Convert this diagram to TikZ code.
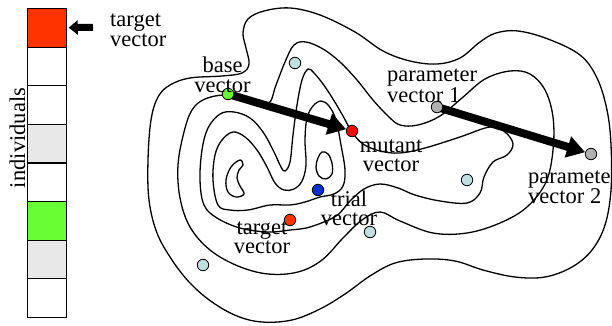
\documentclass[tikz,border=0pt]{standalone}
\usepackage{fontspec}
\setmainfont{Liberation Serif}
\usetikzlibrary{arrows.meta}
\definecolor{boxred}{HTML}{FF3300}
\definecolor{boxgreen}{HTML}{66FF33}
\definecolor{boxgray}{HTML}{E8E8E8}
\definecolor{dotred}{HTML}{FF0000}
\definecolor{dotblue}{HTML}{0033CC}
\definecolor{dotcyan}{HTML}{BFE0E0}
\definecolor{dotgray}{HTML}{B0B0B0}
\pgfdeclarelayer{bg}
\pgfdeclarelayer{mid}
\pgfsetlayers{bg,mid,main}
\begin{document}
\begin{tikzpicture}[x=1pt,y=-1pt,
  contour/.style={line width=1.3pt, line join=round},
  cell/.style={draw, line width=1.2pt, minimum width=38.5pt, minimum height=38.6pt, inner sep=0pt, anchor=north west},
  dot/.style={circle, draw, line width=0.8pt, minimum size=11.5pt, inner sep=0pt},
  lbl/.style={font=\fontsize{22.5}{19.5}\selectfont, inner sep=0pt},
  bigarrow/.style={line width=8pt, -{Triangle[length=18pt,width=21pt]}},
  smallarrow/.style={line width=7pt, -{Triangle[length=9pt,width=14pt]}, shorten >=2pt},
]
\useasboundingbox (0,0) rectangle (612,326);

% population column
\node[cell, fill=boxred]   (c1) at (27,8) {};
\node[cell]                (c2) at (27,46.6) {};
\node[cell]                (c3) at (27,85.2) {};
\node[cell, fill=boxgray]  (c4) at (27,123.8) {};
\node[cell]                (c5) at (27,162.4) {};
\node[cell, fill=boxgreen] (c6) at (27,201) {};
\node[cell, fill=boxgray]  (c7) at (27,239.6) {};
\node[cell]                (c8) at (27,278.2) {};
\node[lbl, rotate=90, anchor=base] (ind) at (25,138) {individuals};
\coordinate (tv0) at (93,27.3);
\draw[smallarrow] (tv0) -- (c1);
\node[lbl, anchor=base west] (ttop) at (110,27) {\begin{tabular}[t]{@{}l@{}}target\\vector\end{tabular}};

% contour lines
\begin{pgfonlayer}{bg}
\draw[contour] plot[smooth cycle, tension=0.6] coordinates {
(148,160) (151,120) (158,97) (170,85) (190,78) (222,76) (242,73) (249,64) (246,48) (243,33) (248,19) (264,11) (290,8) (320,15) (355,32) (383,51) (410,61) (437,64) (460,58) (480,42) (496,33) (518,31) (548,39) (580,55) (597,78) (607,110) (611,145) (611,190) (605,225) (592,250) (572,267) (545,277) (515,277) (483,270) (455,261) (425,259) (395,263) (370,276) (345,294) (320,309) (292,320) (262,322) (237,316) (212,302) (190,283) (172,260) (157,233) (149,200)};
\draw[contour] plot[smooth cycle, tension=0.6] coordinates {
(226,95) (205,99) (192,110) (184,132) (178,165) (180,198) (190,227) (210,250) (238,266) (268,274) (298,272) (322,260) (343,238) (362,220) (380,212) (400,221) (433,233) (467,233) (500,223) (527,207) (546,182) (553,150) (553,117) (545,90) (530,74) (510,71) (485,79) (462,98) (440,116) (418,125) (400,125) (388,116) (373,100) (357,80) (340,62) (323,49) (306,42) (294,45) (285,62) (276,85) (268,104) (248,100)};
\draw[contour] plot[smooth cycle, tension=0.6] coordinates {
(204,205) (200,180) (202,150) (208,128) (220,114) (234,112) (250,118) (263,132) (274,152) (281,167) (285,171) (290,162) (293,135) (297,105) (302,80) (308,69) (314,73) (323,84) (333,99) (343,116) (352,132) (363,144) (380,151) (400,153) (425,148) (460,137) (490,127) (505,132) (513,144) (507,155) (493,162) (484,177) (480,193) (467,203) (440,201) (415,195) (398,188) (380,184) (364,189) (350,201) (336,216) (310,227) (290,230) (268,232) (240,228) (217,218)};
\draw[contour] plot[smooth cycle, tension=0.6] coordinates {
(218,205) (213,180) (215,155) (222,140) (233,132) (245,137) (257,150) (267,167) (275,183) (284,190) (294,189) (302,181) (306,165) (305,140) (307,118) (313,106) (321,101) (329,106) (336,120) (341,145) (345,170) (343,186) (334,194) (320,197) (305,202) (290,205) (270,205) (248,210) (230,210)};
\draw[contour] plot[smooth cycle, tension=0.6] coordinates {
(318,158) (322,152) (328,154) (332,163) (332,174) (326,179) (319,176) (316,167)};
\draw[contour] plot[smooth cycle, tension=0.6] coordinates {
(240,160) (231,167) (226,180) (228,192) (236,197) (244,194) (240,186) (237,178) (239,170) (243,165)};
\end{pgfonlayer}

% points
\node[dot, fill=boxgreen] (base) at (228,94) {};
\node[dot, fill=dotcyan]  (q1) at (295,63) {};
\node[dot, fill=dotred]   (mut) at (352,131) {};
\node[dot, fill=dotblue]  (trial) at (318,190) {};
\node[dot, fill=boxred]   (targ) at (290,220) {};
\node[dot, fill=dotcyan]  (q2) at (370,232) {};
\node[dot, fill=dotcyan]  (q3) at (203,265) {};
\node[dot, fill=dotcyan]  (q4) at (467,180) {};
\node[dot, fill=dotgray]  (p1) at (437,107) {};
\node[dot, fill=dotgray]  (p2) at (591,154) {};

\begin{pgfonlayer}{mid}
\draw[bigarrow] (base.center) -- (mut);
\draw[bigarrow] (p1.center) -- (p2);
\end{pgfonlayer}

% labels
\node[lbl, anchor=base] (lbase) at (222.5,73) {\begin{tabular}[t]{@{}c@{}}base\\vector\end{tabular}};
\node[lbl, anchor=base west] (lp1) at (387,82) {\begin{tabular}[t]{@{}l@{}}parameter\\vector 1\end{tabular}};
\node[lbl, anchor=base] (lmut) at (391,152) {\begin{tabular}[t]{@{}c@{}}mutant\\vector\end{tabular}};
\node[lbl, anchor=base] (ltrial) at (349,206) {\begin{tabular}[t]{@{}c@{}}trial\\vector\end{tabular}};
\node[lbl, anchor=base] (ltarg) at (262,234) {\begin{tabular}[t]{@{}c@{}}target\\vector\end{tabular}};
\node[lbl, anchor=base west] (lp2) at (528,183) {\begin{tabular}[t]{@{}l@{}}parameter\\vector 2\end{tabular}};
\end{tikzpicture}
\end{document}
